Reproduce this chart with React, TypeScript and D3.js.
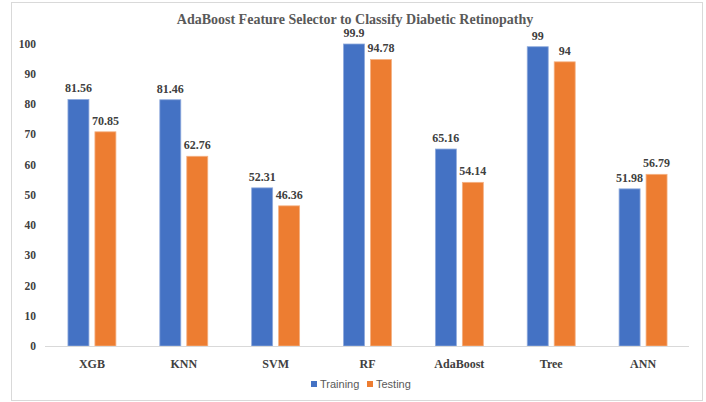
import React from "react";
import * as d3 from "d3";

const categories = ["XGB", "KNN", "SVM", "RF", "AdaBoost", "Tree", "ANN"];
const training = [81.56, 81.46, 52.31, 99.9, 65.16, 99, 51.98];
const testing = [70.85, 62.76, 46.36, 94.78, 54.14, 94, 56.79];
const seriesNames = ["Training", "Testing"];
const seriesColors = ["#4472C4", "#ED7D31"];
const seriesStroke = ["#8FAADC", "#F4B183"];
const yTicks = [0, 10, 20, 30, 40, 50, 60, 70, 80, 90, 100];
const title = "AdaBoost Feature Selector to Classify Diabetic Retinopathy";

const W = 706;
const H = 402;

export default function App() {
  const x = d3.scaleBand<string>().domain(categories).range([46, 689]).paddingInner(0.478).paddingOuter(0.239);
  const xi = d3.scaleBand<string>().domain(seriesNames).range([0, x.bandwidth()]).paddingInner(0.222);
  const y = d3.scaleLinear().domain([0, 100]).range([346, 43.7]);
  const series = [training, testing];
  const serif = "'Liberation Serif', 'Times New Roman', serif";
  const fmt = (v: number) => String(v);

  return (
    <svg width={W} height={H} style={{ position: "absolute", left: 0, top: 0, background: "#fff" }}>
      <rect x={11.5} y={2.5} width={691} height={398} fill="#fff" stroke="#D9D9D9" strokeWidth={1} />
      <text x={355} y={24} textAnchor="middle" fontFamily={serif} fontWeight="bold" fontSize={14} fill="#595959">
        {title}
      </text>
      {yTicks.map((t) => (
        <text key={t} x={36} y={y(t) + 4} textAnchor="end" fontFamily={serif} fontWeight="bold" fontSize={11.5} fill="#404040">
          {t}
        </text>
      ))}
      {categories.map((c, i) => (
        <g key={c}>
          {series.map((s, k) => {
            const bx = (x(c) as number) + (xi(seriesNames[k]) as number);
            const bw = xi.bandwidth();
            return (
              <g key={k}>
                <rect x={bx} y={y(s[i])} width={bw} height={y(0) - y(s[i])} fill={seriesColors[k]} stroke={seriesStroke[k]} strokeWidth={0.8} />
                <text x={bx + bw / 2} y={y(s[i]) - 7} textAnchor="middle" fontFamily={serif} fontWeight="bold" fontSize={12} fill="#404040">
                  {fmt(s[i])}
                </text>
              </g>
            );
          })}
          <text x={(x(c) as number) + x.bandwidth() / 2} y={368} textAnchor="middle" fontFamily={serif} fontWeight="bold" fontSize={12} fill="#404040">
            {c}
          </text>
        </g>
      ))}
      <line x1={45} x2={689} y1={346.5} y2={346.5} stroke="#D9D9D9" strokeWidth={1} />
      <g>
        <rect x={311} y={381} width={6} height={6} fill={seriesColors[0]} />
        <text x={320} y={388} fontFamily="'Liberation Sans', Arial, sans-serif" fontSize={11} fill="#595959">{seriesNames[0]}</text>
        <rect x={367} y={381} width={6} height={6} fill={seriesColors[1]} />
        <text x={376} y={388} fontFamily="'Liberation Sans', Arial, sans-serif" fontSize={11} fill="#595959">{seriesNames[1]}</text>
      </g>
    </svg>
  );
}
